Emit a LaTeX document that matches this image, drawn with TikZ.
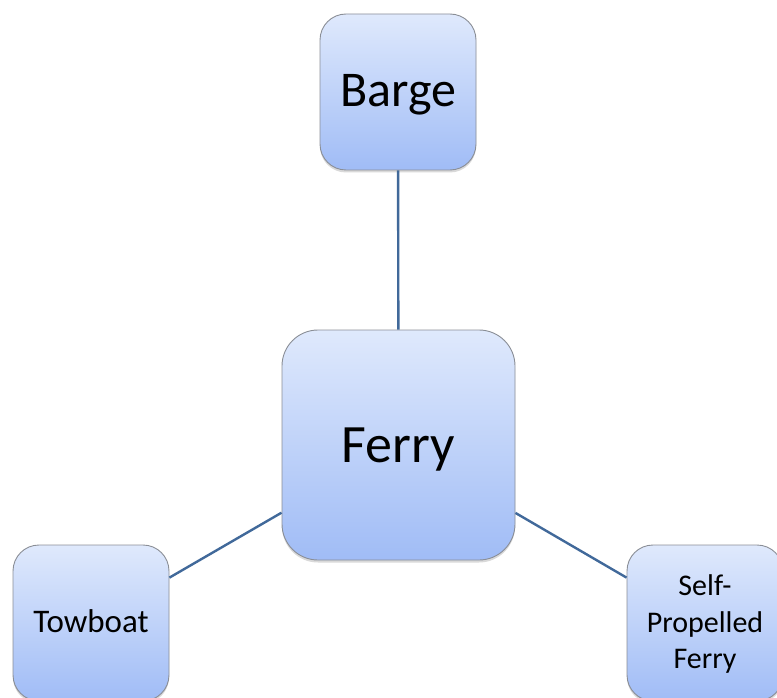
\documentclass[tikz,border=0pt]{standalone}
\usepackage{fontspec}
\setmainfont{Carlito}
\usetikzlibrary{shadows}
\definecolor{boxtop}{HTML}{DFE9FC}
\definecolor{boxbot}{HTML}{A0BCF6}
\definecolor{boxline}{HTML}{8A8E96}
\definecolor{linkcol}{HTML}{41699A}
\newcommand{\lowertext}[2]{\raisebox{-#1}[\height][\depth]{#2}}
\begin{document}
\begin{tikzpicture}[x=1pt,y=-1pt,
  boxnode/.style={rectangle, rounded corners=#1, top color=boxtop, bottom color=boxbot,
    draw=boxline, line width=0.9pt, inner sep=0pt, align=center,
    drop shadow={shadow xshift=0pt, shadow yshift=-2.5pt, opacity=0.25, fill=black!60}},
  link/.style={draw=linkcol, line width=2.4pt}]
\useasboundingbox (0,0) rectangle (777,698);
\node[boxnode=26pt, minimum width=156pt, minimum height=156pt, font=\fontsize{50}{58}\selectfont] (barge) at (398,92) {\lowertext{3pt}{Barge}};
\node[boxnode=36pt, minimum width=233pt, minimum height=230pt, font=\fontsize{54}{62}\selectfont] (ferry) at (398.5,445) {\lowertext{5pt}{Ferry}};
\node[boxnode=26pt, minimum width=156pt, minimum height=156pt, font=\fontsize{33}{38}\selectfont] (tow) at (91,623) {\lowertext{-1.5pt}{Towboat}};
\node[boxnode=26pt, minimum width=156pt, minimum height=156pt, font=\fontsize{30}{36.5}\selectfont] (self) at (705,623) {\lowertext{2pt}{\begin{tabular}{@{}c@{}}Self-\\Propelled\\Ferry\end{tabular}}};
\draw[link] (barge) -- (ferry);
\draw[link] (ferry) -- (tow);
\draw[link] (ferry) -- (self);
\end{tikzpicture}
\end{document}
